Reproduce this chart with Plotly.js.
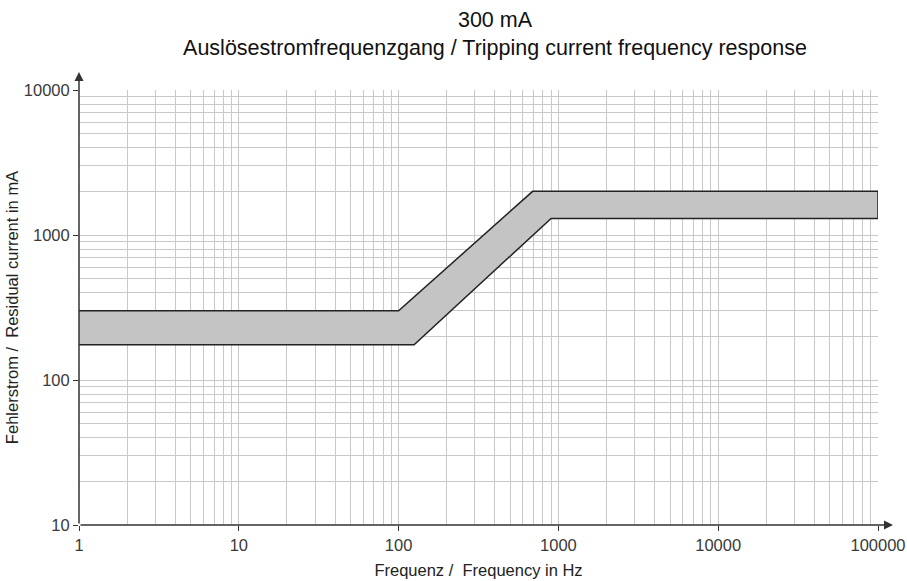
<!DOCTYPE html>
<html>
<head>
<meta charset="utf-8">
<script src="https://cdn.plot.ly/plotly-3.0.1.min.js"></script>
<style>html,body{margin:0;padding:0;background:#fff;}#chart{width:907px;height:581px;}</style>
</head>
<body>
<div id="chart"></div>
<script>
// Upper boundary of the tripping band
const freqUpper = [1, 100, 690, 100000];
const currentUpper = [300, 300, 2000, 2000];
// Lower boundary of the tripping band
const freqLower = [1, 125, 900, 100000];
const currentLower = [175, 175, 1300, 1300];

const xTickVals = [1, 10, 100, 1000, 10000, 100000];
const xTickText = ['1', '10', '100', '1000', '10000', '100000'];
const yTickVals = [10, 100, 1000, 10000];
const yTickText = ['10', '100', '1000', '10000'];

function minorVals(lo, hi) {
  const v = [];
  for (let d = lo; d < hi; d *= 10) for (let k = 2; k <= 9; k++) v.push(d * k);
  return v;
}

const bandX = freqUpper.concat(freqLower.slice().reverse());
const bandY = currentUpper.concat(currentLower.slice().reverse());

const traces = [{
  x: bandX, y: bandY, type: 'scatter', mode: 'lines',
  fill: 'toself', fillcolor: '#c4c4c4',
  line: {color: '#222', width: 1.5},
  hoverinfo: 'skip', showlegend: false
}];

const gridC = '#c9c9c9';
const tickFont = {family: 'Liberation Sans, Arial, sans-serif', size: 16.5, color: '#3a3a3a'};
const labelFont = {family: 'Liberation Sans, Arial, sans-serif', size: 16.5, color: '#222'};

const layout = {
  width: 907, height: 581,
  margin: {l: 79, r: 29, t: 90, b: 56},
  paper_bgcolor: '#fff', plot_bgcolor: '#fff',
  showlegend: false,
  title: {
    text: '300 mA<br>Auslösestromfrequenzgang / Tripping current frequency response',
    font: {family: 'Liberation Sans, Arial, sans-serif', size: 21.5, color: '#111'},
    x: 495 / 907, xref: 'container', xanchor: 'center',
    y: 1 - 27 / 581, yref: 'container', yanchor: 'top'
  },
  xaxis: {
    type: 'log', range: [0, 5],
    tickvals: xTickVals, ticktext: xTickText,
    ticks: 'outside', ticklen: 5, tickcolor: '#333', tickwidth: 1,
    showgrid: true, gridcolor: gridC, gridwidth: 1,
    minor: {tickvals: minorVals(1, 100000), showgrid: true, gridcolor: gridC, gridwidth: 1, ticks: ''},
    showline: false, zeroline: false,
    tickfont: tickFont,
    title: {text: 'Frequenz /  Frequency in Hz', font: labelFont, standoff: 11}
  },
  yaxis: {
    type: 'log', range: [1, 4],
    tickvals: yTickVals, ticktext: yTickText,
    ticks: 'outside', ticklen: 5, tickcolor: '#333', tickwidth: 1,
    showgrid: true, gridcolor: gridC, gridwidth: 1,
    minor: {tickvals: minorVals(10, 10000), showgrid: true, gridcolor: gridC, gridwidth: 1, ticks: ''},
    showline: false, zeroline: false,
    tickfont: tickFont,
    title: {text: 'Fehlerstrom /  Residual current in mA', font: labelFont, standoff: 1}
  },
  annotations: [
    {xref: 'paper', yref: 'paper', x: 0, y: 1 + 18 / 435, ax: 0, ay: 453, axref: 'pixel', ayref: 'pixel',
     showarrow: true, arrowhead: 2, arrowsize: 1.2, arrowwidth: 1.5, arrowcolor: '#333', text: ''},
    {xref: 'paper', yref: 'paper', x: 1 + 15 / 799, y: 0, ax: -814, ay: 0, axref: 'pixel', ayref: 'pixel',
     showarrow: true, arrowhead: 2, arrowsize: 1.2, arrowwidth: 1.5, arrowcolor: '#333', text: ''}
  ]
};

Plotly.newPlot('chart', traces, layout, {displayModeBar: false, staticPlot: true});
</script>
</body>
</html>
